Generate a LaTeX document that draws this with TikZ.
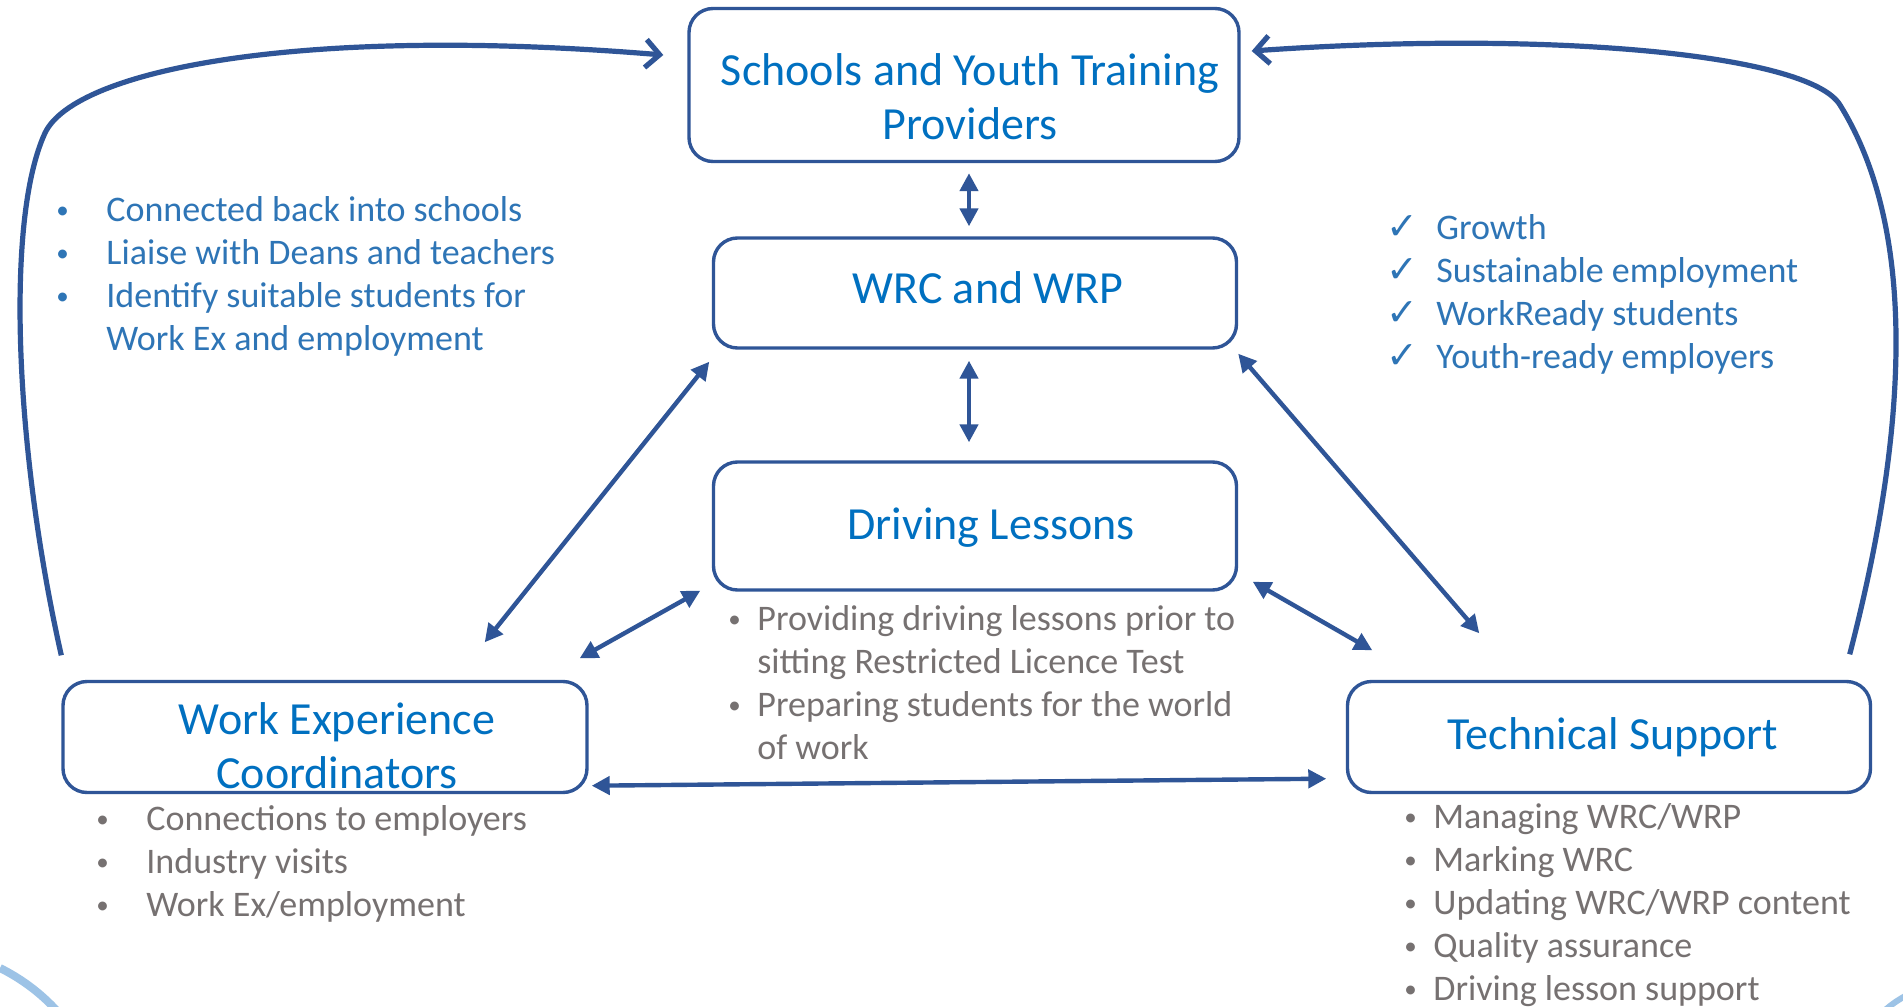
\documentclass[tikz,border=0pt]{standalone}
\usepackage{fontspec}
\setmainfont{Carlito}
\newfontfamily\symfont{DejaVu Sans}
\usepackage{xcolor}
\usetikzlibrary{arrows.meta}

\definecolor{frame}{RGB}{47,85,151}
\definecolor{heading}{RGB}{0,112,192}
\definecolor{listblue}{RGB}{46,117,182}
\definecolor{listgrey}{RGB}{118,113,113}
\definecolor{paleblue}{RGB}{157,195,230}

\newcommand{\tick}{{\symfont\fontsize{19}{19}\selectfont ✓}}
\newcommand{\blt}{\raisebox{1.5pt}{\fontsize{12.5}{12.5}\selectfont\textbullet}}

\begin{document}
\begin{tikzpicture}[
  x=0.5pt, y=-0.5pt,
  box/.style={draw=frame, line width=1.7pt, rounded corners=12pt, inner sep=0pt},
  title/.style={text=heading, align=center, inner sep=0pt, font=\fontsize{23}{27}\selectfont},
  notes/.style={anchor=base west, inner sep=0pt, font=\fontsize{18}{21.5}\selectfont},
  dbl/.style={{Triangle[length=9pt,width=9pt]}-{Triangle[length=9pt,width=9pt]}, draw=frame, line width=2.2pt},
  backarc/.style={-{Straight Barb[length=7pt,width=14pt]}, draw=frame, line width=2.6pt}
]
\useasboundingbox (0,0) rectangle (1903,1007);
\fill[white] (0,0) rectangle (1903,1007);

\node[box, minimum width=275pt, minimum height=76.5pt] (schools) at (964,85) {};
\node[box, minimum width=261.5pt, minimum height=55pt] (wrc) at (975,293) {};
\node[box, minimum width=261.5pt, minimum height=64pt] (driving) at (975,526) {};
\node[box, minimum width=262pt, minimum height=55.5pt] (wexc) at (325,737) {};
\node[box, minimum width=261.5pt, minimum height=55.5pt] (tech) at (1609,737) {};

\node[title] (schoolstitle) at ([xshift=3pt,yshift=-6pt]schools.center) {Schools and Youth Training\\Providers};
\node[title] (wrctitle) at ([xshift=6.5pt,yshift=2.5pt]wrc.center) {WRC and WRP};
\node[title] (drivingtitle) at ([xshift=8pt,yshift=-1pt]driving.center) {Driving Lessons};
\node[title] (wexctitle) at ([xshift=6pt,yshift=-4.5pt]wexc.center) {Work Experience\\Coordinators};
\node[title] (techtitle) at ([xshift=2pt]tech.center) {Technical Support};

\node[notes, text=listblue] (schoolnotes) at (56,221) {\begin{tabular}[t]{@{}p{25pt}@{}l@{}}
\blt & Connected back into schools\\
\blt & Liaise with Deans and teachers\\
\blt & Identify suitable students for\\
 & Work Ex and employment
\end{tabular}};
\node[notes, text=listblue] (outcomes) at (1386,239) {\begin{tabular}[t]{@{}p{25pt}@{}l@{}}
\tick & Growth\\
\tick & Sustainable employment\\
\tick & WorkReady students\\
\tick & Youth-ready employers
\end{tabular}};
\node[notes, text=listgrey] (drivingnotes) at (728,630) {\begin{tabular}[t]{@{}p{14.5pt}@{}l@{}}
\blt & Providing driving lessons prior to\\
 & sitting Restricted Licence Test\\
\blt & Preparing students for the world\\
 & of work
\end{tabular}};
\node[notes, text=listgrey] (wexcnotes) at (96,830) {\begin{tabular}[t]{@{}p{25pt}@{}l@{}}
\blt & Connections to employers\\
\blt & Industry visits\\
\blt & Work Ex/employment
\end{tabular}};
\node[notes, text=listgrey] (technotes) at (1404,828) {\begin{tabular}[t]{@{}p{14.5pt}@{}l@{}}
\blt & Managing WRC/WRP\\
\blt & Marking WRC\\
\blt & Updating WRC/WRP content\\
\blt & Quality assurance\\
\blt & Driving lesson support
\end{tabular}};

\draw[dbl] ([xshift=2.5pt,yshift=-5pt]schools.south) -- ([xshift=-3pt,yshift=5pt]wrc.north);
\draw[dbl] ([xshift=-3pt,yshift=-5.5pt]wrc.south) -- ([xshift=-3pt,yshift=9pt]driving.north);
\draw[dbl] ([xshift=-1.25pt,yshift=-6pt]wrc.south west) -- ([xshift=-52pt,yshift=18.75pt]wexc.north east);
\draw[dbl] ([xshift=-5.75pt,yshift=0.5pt]driving.south west) -- ([xshift=-4.5pt,yshift=10.75pt]wexc.north east);
\draw[dbl] ([yshift=-2pt]wrc.south east) -- ([xshift=66.75pt,yshift=23.25pt]tech.north west);
\draw[dbl] ([xshift=7.25pt,yshift=5pt]driving.south east) -- ([xshift=13.25pt,yshift=14.75pt]tech.north west);
\draw[dbl] ([xshift=1.5pt,yshift=4.25pt]wexc.south east) -- ([xshift=-9.75pt,yshift=7.75pt]tech.south west);

\draw[backarc] ([yshift=12.25pt]wexc.north west) .. controls (15,450) and (5,220) .. (45,133)
  .. controls (75,70) and (300,25) .. ([xshift=-12pt,yshift=15pt]schools.west);
\draw[backarc] ([xshift=-11.25pt,yshift=12.75pt]tech.north east) .. controls (1895,480) and (1930,250) .. (1840,105)
  .. controls (1809,54) and (1550,30) .. ([xshift=5.5pt,yshift=17pt]schools.east);

\draw[paleblue, line width=4pt] (0,968) .. controls (20,978) and (40,992) .. (58,1012);
\draw[paleblue, line width=3pt] (1884,1011) .. controls (1892,1004) and (1898,1000) .. (1907,995);
\end{tikzpicture}
\end{document}
